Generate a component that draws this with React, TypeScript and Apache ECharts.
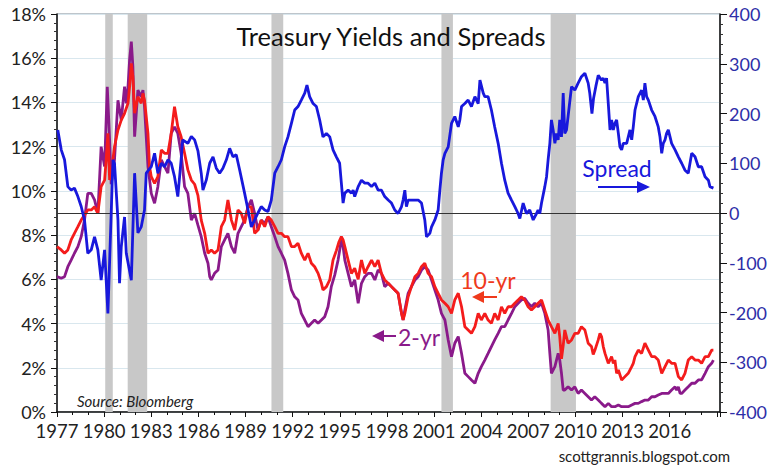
import React, { useEffect, useRef } from "react";
import * as echarts from "echarts";

// ---- Data ----
const xTickLabels: number[] = [1977, 1980, 1983, 1986, 1989, 1992, 1995, 1998, 2001, 2004, 2007, 2010, 2013, 2016];

const recessions: [number, number][] = [
  [1980.07, 1980.55],
  [1981.5, 1982.74],
  [1990.65, 1991.4],
  [2001.47, 2002.2],
  [2008.42, 2010.03],
];

const tenYr: [number, number][] = [
  [1977.0,7.48],[1977.27,7.33],[1977.48,7.18],[1977.69,7.33],[1977.9,7.78],[1978.11,8.08],[1978.33,8.38],[1978.54,8.68],[1978.75,8.91],[1978.96,9.14],[1979.18,9.14],[1979.39,9.28],[1979.6,8.98],[1979.81,10.19],[1980.03,10.49],[1980.13,11.4],[1980.24,12.6],[1980.35,10.5],[1980.45,10.8],[1980.66,12.0],[1980.88,12.75],[1981.09,13.2],[1981.3,13.51],[1981.52,13.96],[1981.62,14.71],[1981.73,15.77],[1981.83,15.17],[1981.94,13.51],[1982.15,14.26],[1982.36,13.96],[1982.47,14.41],[1982.57,14.1],[1982.79,12.6],[1982.89,11.1],[1983.0,10.64],[1983.21,10.34],[1983.42,10.64],[1983.64,11.85],[1983.85,11.7],[1984.06,11.7],[1984.27,12.6],[1984.48,13.81],[1984.69,12.9],[1984.9,12.45],[1985.12,11.7],[1985.33,10.95],[1985.55,10.49],[1985.76,10.3],[1985.97,9.8],[1986.18,8.68],[1986.4,8.08],[1986.61,7.18],[1986.82,7.33],[1987.03,7.18],[1987.25,7.33],[1987.46,8.38],[1987.67,8.68],[1987.88,9.59],[1988.1,8.68],[1988.31,8.23],[1988.52,9.14],[1988.73,8.98],[1988.94,8.53],[1989.16,9.28],[1989.37,9.28],[1989.58,8.08],[1989.79,8.23],[1990.0,8.68],[1990.22,8.38],[1990.43,8.83],[1990.64,8.68],[1990.86,8.38],[1991.07,8.08],[1991.28,8.08],[1991.49,7.93],[1991.7,7.93],[1991.92,7.48],[1992.13,7.48],[1992.34,7.63],[1992.55,7.18],[1992.77,6.87],[1992.98,7.18],[1993.19,6.73],[1993.4,6.57],[1993.62,6.27],[1993.83,5.82],[1993.93,5.52],[1994.15,5.67],[1994.36,5.97],[1994.57,6.87],[1994.78,7.3],[1994.95,7.7],[1995.1,7.93],[1995.21,7.78],[1995.32,7.48],[1995.53,6.87],[1995.74,6.27],[1995.95,6.5],[1996.17,6.0],[1996.38,6.87],[1996.59,6.27],[1996.8,6.57],[1997.02,6.87],[1997.23,6.57],[1997.44,6.87],[1997.65,6.27],[1997.86,5.97],[1998.08,5.82],[1998.29,5.67],[1998.5,5.52],[1998.71,5.37],[1998.93,4.46],[1999.03,4.16],[1999.14,4.46],[1999.35,5.21],[1999.56,5.67],[1999.78,6.12],[1999.99,6.27],[2000.2,6.57],[2000.41,6.73],[2000.62,6.27],[2000.84,6.12],[2001.05,5.67],[2001.26,5.37],[2001.47,5.07],[2001.69,4.92],[2001.9,4.76],[2002.11,4.46],[2002.32,5.07],[2002.54,5.37],[2002.75,4.76],[2002.96,3.86],[2003.17,3.71],[2003.38,3.56],[2003.6,3.86],[2003.81,4.46],[2004.01,4.16],[2004.23,4.46],[2004.44,4.16],[2004.65,4.01],[2004.86,4.46],[2005.08,4.16],[2005.29,4.76],[2005.5,4.46],[2005.71,4.76],[2005.93,4.76],[2006.14,4.92],[2006.35,5.07],[2006.56,5.21],[2006.77,5.07],[2006.99,4.76],[2007.2,4.61],[2007.41,4.76],[2007.62,4.92],[2007.84,5.07],[2008.05,4.61],[2008.26,4.16],[2008.47,3.86],[2008.69,3.56],[2008.9,4.01],[2009.0,3.41],[2009.11,2.4],[2009.22,3.0],[2009.32,3.71],[2009.53,3.11],[2009.75,3.26],[2009.96,3.56],[2010.17,3.56],[2010.38,3.86],[2010.6,3.71],[2010.81,3.11],[2011.02,2.96],[2011.13,2.6],[2011.24,2.8],[2011.45,3.26],[2011.56,3.56],[2011.66,3.41],[2011.77,2.96],[2011.88,2.65],[2012.09,2.2],[2012.3,2.5],[2012.41,2.2],[2012.51,2.35],[2012.62,1.75],[2012.73,1.9],[2012.94,1.45],[2013.15,1.6],[2013.36,1.75],[2013.58,2.05],[2013.68,2.2],[2013.79,2.5],[2014.0,2.8],[2014.21,2.65],[2014.42,3.11],[2014.64,2.8],[2014.85,2.5],[2015.06,2.5],[2015.27,2.35],[2015.49,1.75],[2015.7,2.05],[2015.91,2.35],[2016.12,2.2],[2016.34,2.2],[2016.55,1.6],[2016.76,1.45],[2016.97,1.75],[2017.18,2.35],[2017.4,2.5],[2017.61,2.35],[2017.82,2.35],[2018.03,2.2],[2018.25,2.5],[2018.46,2.5],[2018.67,2.8],[2018.78,2.8],
];

const twoYr: [number, number][] = [
  [1977.0,6.12],[1977.27,6.05],[1977.48,6.12],[1977.69,6.57],[1977.9,6.87],[1978.11,7.18],[1978.33,7.48],[1978.54,7.93],[1978.75,8.68],[1978.96,9.89],[1979.18,9.89],[1979.39,9.59],[1979.5,9.28],[1979.6,8.98],[1979.81,12.0],[1980.03,11.1],[1980.2,14.71],[1980.35,12.3],[1980.45,10.3],[1980.66,11.4],[1980.88,14.1],[1981.09,13.2],[1981.3,14.71],[1981.41,13.96],[1981.52,14.71],[1981.62,15.92],[1981.73,16.75],[1981.83,15.62],[1981.94,12.45],[1982.15,14.56],[1982.36,14.26],[1982.47,14.56],[1982.57,13.81],[1982.79,11.1],[1983.0,9.89],[1983.21,9.44],[1983.42,10.19],[1983.64,11.4],[1983.85,11.1],[1984.06,10.8],[1984.27,12.6],[1984.48,12.9],[1984.69,12.6],[1984.9,11.7],[1985.12,10.19],[1985.33,9.89],[1985.55,8.68],[1985.76,8.98],[1985.97,8.45],[1986.18,7.93],[1986.4,7.18],[1986.61,6.73],[1986.72,6.12],[1986.82,5.97],[1987.03,6.27],[1987.25,6.42],[1987.46,7.48],[1987.67,7.78],[1987.88,8.08],[1988.1,7.48],[1988.31,7.18],[1988.52,8.08],[1988.73,8.38],[1988.94,8.68],[1989.16,9.28],[1989.37,9.59],[1989.58,8.98],[1989.79,8.23],[1990.0,8.68],[1990.22,8.53],[1990.43,8.83],[1990.64,8.38],[1990.86,7.93],[1991.07,7.48],[1991.28,7.18],[1991.49,6.87],[1991.7,6.27],[1991.92,5.52],[1992.13,5.21],[1992.34,5.07],[1992.55,4.46],[1992.77,4.16],[1992.98,3.86],[1993.19,4.01],[1993.4,4.16],[1993.62,4.01],[1993.83,4.16],[1994.04,4.31],[1994.25,4.76],[1994.46,5.67],[1994.68,6.2],[1994.89,6.87],[1995.1,7.78],[1995.21,7.48],[1995.32,6.87],[1995.53,6.27],[1995.74,5.67],[1995.95,5.97],[1996.17,4.92],[1996.38,5.82],[1996.59,6.12],[1996.8,6.27],[1997.02,6.27],[1997.23,5.97],[1997.44,6.42],[1997.65,6.27],[1997.86,5.67],[1998.08,5.82],[1998.29,5.67],[1998.5,5.52],[1998.71,5.37],[1998.93,4.46],[1999.03,4.16],[1999.14,4.61],[1999.35,5.37],[1999.56,5.67],[1999.78,5.97],[1999.99,6.12],[2000.2,6.42],[2000.41,6.57],[2000.62,6.42],[2000.84,5.97],[2001.05,5.52],[2001.26,5.07],[2001.47,4.46],[2001.69,4.16],[2001.9,3.26],[2002.11,2.5],[2002.32,3.11],[2002.54,3.41],[2002.75,2.65],[2002.96,1.75],[2003.17,1.6],[2003.38,1.45],[2003.6,1.3],[2003.81,1.75],[2004.01,2.05],[2004.23,2.35],[2004.44,2.65],[2004.65,2.96],[2004.86,3.26],[2005.08,3.56],[2005.29,3.86],[2005.5,3.86],[2005.71,4.16],[2005.93,4.46],[2006.14,4.76],[2006.35,4.92],[2006.56,5.07],[2006.77,5.14],[2006.99,4.92],[2007.2,4.76],[2007.41,4.92],[2007.62,4.76],[2007.84,4.92],[2008.05,4.46],[2008.26,3.71],[2008.37,2.65],[2008.47,1.75],[2008.69,2.05],[2008.9,2.65],[2009.0,2.35],[2009.11,1.75],[2009.22,0.99],[2009.32,0.99],[2009.53,1.14],[2009.75,0.99],[2009.96,1.14],[2010.17,0.84],[2010.38,0.99],[2010.6,0.84],[2010.81,0.69],[2011.02,0.54],[2011.23,0.69],[2011.45,0.54],[2011.66,0.39],[2011.88,0.24],[2012.09,0.39],[2012.3,0.24],[2012.51,0.24],[2012.73,0.32],[2012.94,0.24],[2013.15,0.24],[2013.36,0.24],[2013.58,0.32],[2013.79,0.39],[2014.0,0.39],[2014.21,0.47],[2014.42,0.54],[2014.64,0.54],[2014.85,0.69],[2015.06,0.69],[2015.27,0.77],[2015.49,0.84],[2015.7,0.84],[2015.91,0.84],[2016.12,0.99],[2016.34,1.14],[2016.44,0.99],[2016.55,1.14],[2016.66,0.84],[2016.76,0.84],[2016.97,0.99],[2017.18,1.14],[2017.4,1.3],[2017.61,1.3],[2017.82,1.45],[2018.03,1.45],[2018.25,1.75],[2018.46,2.05],[2018.67,2.2],[2018.78,2.35],
];

const spreadBps: [number, number][] = [
  [1977.05,167],[1977.27,127],[1977.48,107],[1977.69,53],[1977.9,46],[1978.11,50],[1978.33,33],[1978.54,13],[1978.75,-14],[1978.96,-81],[1979.18,-74],[1979.39,-48],[1979.6,-74],[1979.81,-135],[1980.03,-74],[1980.24,-202],[1980.45,0],[1980.56,107],[1980.66,100],[1980.88,-14],[1980.98,-141],[1981.09,-68],[1981.3,-8],[1981.41,-81],[1981.73,-135],[1981.94,80],[1982.15,-40],[1982.36,-28],[1982.57,6],[1982.68,80],[1983.0,93],[1983.21,120],[1983.42,80],[1983.64,100],[1983.85,93],[1984.06,107],[1984.27,100],[1984.48,73],[1984.69,33],[1984.9,107],[1985.0,147],[1985.33,140],[1985.55,154],[1985.76,147],[1985.97,125],[1986.18,80],[1986.29,46],[1986.5,66],[1986.72,100],[1986.93,113],[1987.14,90],[1987.35,80],[1987.56,90],[1987.78,107],[1987.99,130],[1988.2,113],[1988.41,117],[1988.63,86],[1988.94,40],[1989.16,6],[1989.37,-28],[1989.58,-14],[1989.79,0],[1990.0,13],[1990.22,6],[1990.43,3],[1990.64,26],[1990.86,80],[1991.07,93],[1991.28,107],[1991.49,133],[1991.7,153],[1991.92,180],[1992.13,207],[1992.34,214],[1992.55,227],[1992.77,241],[1992.91,257],[1993.08,234],[1993.3,220],[1993.51,214],[1993.72,187],[1993.93,153],[1994.15,160],[1994.36,153],[1994.57,127],[1994.78,113],[1994.99,100],[1995.1,60],[1995.21,20],[1995.32,40],[1995.53,46],[1995.74,40],[1995.85,46],[1995.95,33],[1996.17,53],[1996.38,66],[1996.59,60],[1996.8,60],[1997.02,53],[1997.23,60],[1997.44,46],[1997.65,46],[1997.86,33],[1998.08,26],[1998.29,20],[1998.5,6],[1998.71,-1],[1998.82,6],[1998.93,13],[1999.03,26],[1999.14,46],[1999.24,13],[1999.35,26],[1999.56,26],[1999.78,26],[1999.99,26],[2000.2,20],[2000.41,-14],[2000.52,-48],[2000.73,-41],[2000.84,-28],[2001.05,-14],[2001.26,6],[2001.37,46],[2001.47,80],[2001.58,107],[2001.69,120],[2001.9,133],[2002.11,180],[2002.32,194],[2002.54,173],[2002.64,187],[2002.75,214],[2002.96,220],[2003.17,227],[2003.38,214],[2003.6,234],[2003.81,220],[2003.92,267],[2004.13,241],[2004.23,234],[2004.44,234],[2004.65,207],[2004.86,173],[2005.08,140],[2005.29,100],[2005.5,66],[2005.71,40],[2005.93,26],[2006.14,13],[2006.35,-1],[2006.46,-11],[2006.67,20],[2006.88,-1],[2007.09,6],[2007.31,-14],[2007.52,-1],[2007.62,6],[2007.73,-1],[2007.84,20],[2008.05,53],[2008.16,73],[2008.26,107],[2008.37,140],[2008.47,187],[2008.58,167],[2008.69,140],[2008.79,160],[2008.9,147],[2009.0,187],[2009.11,153],[2009.22,241],[2009.32,160],[2009.43,167],[2009.53,194],[2009.75,254],[2009.96,247],[2010.17,261],[2010.38,274],[2010.6,281],[2010.81,261],[2010.91,241],[2011.05,200],[2011.15,230],[2011.3,255],[2011.45,277],[2011.66,267],[2011.77,271],[2011.88,261],[2011.98,271],[2012.09,220],[2012.2,167],[2012.3,187],[2012.41,167],[2012.51,180],[2012.62,187],[2012.73,160],[2012.83,133],[2012.94,127],[2013.04,140],[2013.26,140],[2013.47,167],[2013.58,147],[2013.68,173],[2013.79,207],[2014.0,234],[2014.21,247],[2014.32,227],[2014.42,261],[2014.53,234],[2014.64,227],[2014.85,207],[2015.06,194],[2015.27,173],[2015.38,153],[2015.49,120],[2015.59,140],[2015.7,147],[2015.8,160],[2015.91,167],[2016.02,153],[2016.12,140],[2016.34,127],[2016.55,113],[2016.76,100],[2016.97,86],[2017.18,80],[2017.4,120],[2017.61,113],[2017.82,93],[2018.03,93],[2018.25,73],[2018.46,66],[2018.56,53],[2018.78,50],
];

const FONT = "Lato";
const BLUE = "#1818dc";
const RED = "#f41c1c";
const PURPLE = "#8a1a8a";

export default function App() {
  const ref = useRef<HTMLDivElement | null>(null);

  useEffect(() => {
    if (!ref.current) return;
    const chart = echarts.init(ref.current, undefined, { renderer: "svg" });
    const option: any = {
      animation: false,
      backgroundColor: "#ffffff",
      textStyle: { fontFamily: FONT },
      grid: {
        left: 57,
        right: 60,
        top: 14,
        bottom: 58,
        show: true,
        borderColor: "#7d8a96",
        borderWidth: 1,
        backgroundColor: "transparent",
      },
      xAxis: {
        type: "value",
        min: 1977,
        max: 2019.2,
        interval: 3,
        axisLine: { show: true, onZero: false, lineStyle: { color: "#111", width: 1.5 } },
        axisTick: { show: true, length: 5, lineStyle: { color: "#111" } },
        minorTick: { show: true, splitNumber: 3, length: 3, lineStyle: { color: "#111" } },
        splitLine: { show: false },
        axisLabel: {
          fontSize: 18.5,
          color: "#222",
          margin: 9,
          fontFamily: FONT,
          formatter: (v: number) => (xTickLabels.indexOf(v) >= 0 ? String(v) : ""),
        },
      },
      yAxis: [
        {
          type: "value",
          position: "left",
          min: 0,
          max: 18,
          interval: 2,
          axisLine: { show: true, lineStyle: { color: "#111", width: 1.5 } },
          axisTick: { show: true, length: 6, lineStyle: { color: "#111" } },
          minorTick: { show: true, splitNumber: 5, length: 3, lineStyle: { color: "#333" } },
          splitLine: { show: true, lineStyle: { color: "#d9e7ee", width: 1 } },
          axisLabel: { fontSize: 18, color: "#222", margin: 11, fontFamily: FONT, formatter: "{value}%" },
        },
        {
          type: "value",
          position: "right",
          min: -400,
          max: 400,
          interval: 100,
          axisLine: { show: true, lineStyle: { color: "#111", width: 1.5 } },
          axisTick: { show: true, length: 7, lineStyle: { color: "#111" } },
          minorTick: { show: true, splitNumber: 5, length: 3, lineStyle: { color: "#333" } },
          splitLine: { show: false },
          axisLabel: { fontSize: 18, color: "#2e2ea8", margin: 9, fontFamily: FONT },
        },
      ],
      series: [
        {
          name: "2-yr",
          type: "line",
          yAxisIndex: 0,
          data: twoYr,
          showSymbol: false,
          symbol: "none",
          lineStyle: { color: PURPLE, width: 2.8 },
          z: 3,
          markArea: {
            silent: true,
            itemStyle: { color: "#c8c8c8" },
            data: recessions.map(([a, b]) => [{ xAxis: a }, { xAxis: b }]),
          },
        },
        {
          name: "10-yr",
          type: "line",
          yAxisIndex: 0,
          data: tenYr,
          showSymbol: false,
          symbol: "none",
          lineStyle: { color: RED, width: 2.8 },
          z: 4,
        },
        {
          name: "Spread",
          type: "line",
          yAxisIndex: 1,
          data: spreadBps,
          showSymbol: false,
          symbol: "none",
          lineStyle: { color: BLUE, width: 2.8 },
          z: 5,
          markLine: {
            silent: true,
            symbol: "none",
            label: { show: false },
            lineStyle: { color: "#333", width: 1, type: "solid" },
            data: [{ yAxis: 0 }],
          },
        },
      ],
      graphic: [
        {
          type: "text",
          x: 391,
          y: 36,
          style: { text: "Treasury Yields and Spreads", font: `25.5px ${FONT}`, fill: "#111", align: "center", verticalAlign: "middle" },
          z: 20,
        },
        {
          type: "text",
          x: 617,
          y: 168,
          style: { text: "Spread", font: `23px ${FONT}`, fill: BLUE, align: "center", verticalAlign: "middle" },
          z: 20,
        },
        { type: "line", shape: { x1: 598, y1: 187, x2: 640, y2: 187 }, style: { stroke: BLUE, lineWidth: 2 }, z: 20 },
        { type: "polygon", shape: { points: [[637, 181], [650, 187], [637, 193]] }, style: { fill: BLUE }, z: 20 },
        {
          type: "text",
          x: 488,
          y: 280,
          style: { text: "10-yr", font: `23px ${FONT}`, fill: "#ef3a1c", align: "center", verticalAlign: "middle" },
          z: 20,
        },
        { type: "line", shape: { x1: 480, y1: 297, x2: 497, y2: 297 }, style: { stroke: "#ef3a1c", lineWidth: 2 }, z: 20 },
        { type: "polygon", shape: { points: [[484, 291], [472, 297], [484, 303]] }, style: { fill: "#ef3a1c" }, z: 20 },
        { type: "line", shape: { x1: 380, y1: 336, x2: 396, y2: 336 }, style: { stroke: PURPLE, lineWidth: 2 }, z: 20 },
        { type: "polygon", shape: { points: [[384, 330], [372, 336], [384, 342]] }, style: { fill: PURPLE }, z: 20 },
        {
          type: "text",
          x: 398,
          y: 337,
          style: { text: "2-yr", font: `23px ${FONT}`, fill: PURPLE, align: "left", verticalAlign: "middle" },
          z: 20,
        },
        {
          type: "text",
          x: 77,
          y: 401,
          style: { text: "Source: Bloomberg", font: `italic 15px ${FONT}`, fill: "#222", align: "left", verticalAlign: "middle" },
          z: 20,
        },
        {
          type: "text",
          x: 730,
          y: 456,
          style: { text: "scottgrannis.blogspot.com", font: `15px ${FONT}`, fill: "#222", align: "right", verticalAlign: "middle" },
          z: 20,
        },
      ],
    };
    chart.setOption(option);
    return () => chart.dispose();
  }, []);

  return <div ref={ref} style={{ position: "absolute", left: 0, top: 0, width: 780, height: 470 }} />;
}
